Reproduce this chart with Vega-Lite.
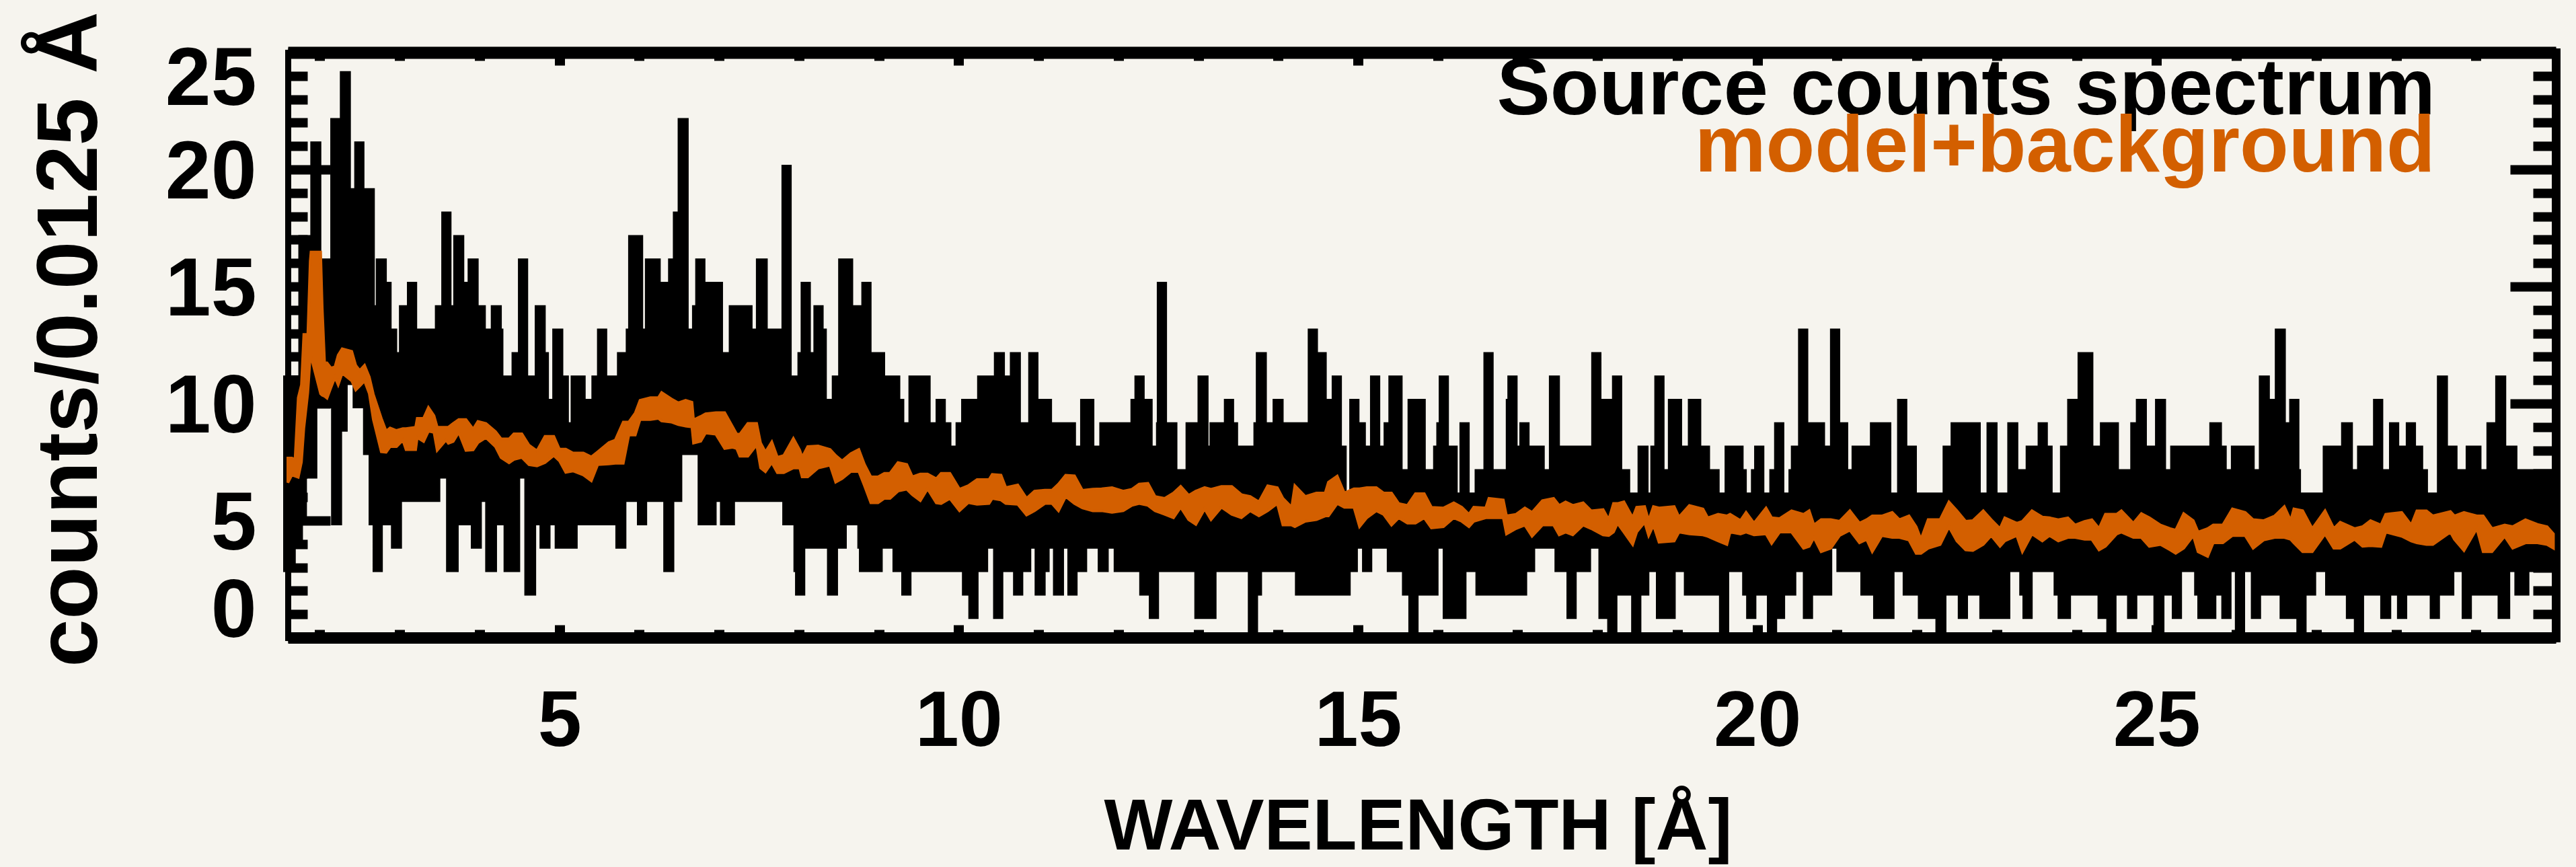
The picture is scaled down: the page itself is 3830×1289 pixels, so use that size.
{"$schema":"https://vega.github.io/schema/vega-lite/v6.json","width":3372,"height":870,"autosize":{"type":"none"},"padding":{"left":428,"top":78,"right":30,"bottom":341},"background":"#f6f4ee","config":{"view":{"stroke":null},"axis":{"grid":false,"tickColor":"#000","domainColor":"#000","labelColor":"#000","titleColor":"#000","labelFont":"Liberation Sans","titleFont":"Liberation Sans","labelFontWeight":"bold","titleFontWeight":"bold"}},
"datasets":{
"upper":[{"w":1.6,"c":11,"m":11},{"w":1.79,"c":17,"m":11},{"w":1.94,"c":21,"m":11},{"w":1.96,"c":16,"m":11},{"w":2.19,"c":22,"m":11},{"w":2.31,"c":24,"m":11},{"w":2.33,"c":19,"m":11},{"w":2.49,"c":21,"m":11},{"w":2.5,"c":19,"m":11},{"w":2.63,"c":14,"m":11},{"w":2.76,"c":16,"m":11},{"w":2.78,"c":15,"m":11},{"w":2.84,"c":13,"m":8.5},{"w":2.91,"c":12,"m":8.5},{"w":3.05,"c":14,"m":8.5},{"w":3.15,"c":15,"m":8.5},{"w":3.16,"c":13,"m":8.5},{"w":3.5,"c":14,"m":8.5},{"w":3.58,"c":18,"m":8.5},{"w":3.59,"c":14,"m":8.5},{"w":3.73,"c":17,"m":8.5},{"w":3.75,"c":15,"m":8.5},{"w":3.91,"c":16,"m":8.5},{"w":3.93,"c":14,"m":8.5},{"w":4.02,"c":13,"m":8.5},{"w":4.2,"c":14,"m":8.5},{"w":4.22,"c":13,"m":8.5},{"w":4.24,"c":11,"m":8.5},{"w":4.46,"c":12,"m":8.5},{"w":4.54,"c":16,"m":8.5},{"w":4.55,"c":11,"m":8.5},{"w":4.75,"c":14,"m":8.5},{"w":4.77,"c":12,"m":8.5},{"w":4.81,"c":10,"m":8.5},{"w":4.97,"c":13,"m":8.5},{"w":4.99,"c":11,"m":8.5},{"w":5.06,"c":9,"m":8.5},{"w":5.2,"c":11,"m":8.5},{"w":5.27,"c":10,"m":8.5},{"w":5.46,"c":11,"m":8.5},{"w":5.53,"c":13,"m":8.5},{"w":5.54,"c":11,"m":8.5},{"w":5.78,"c":12,"m":8.5},{"w":5.89,"c":13,"m":8.5},{"w":5.92,"c":17,"m":8.5},{"w":5.99,"c":13,"m":8.5},{"w":6.13,"c":16,"m":8.5},{"w":6.21,"c":15,"m":8.5},{"w":6.42,"c":16,"m":8.5},{"w":6.48,"c":18,"m":8.5},{"w":6.54,"c":22,"m":8.5},{"w":6.56,"c":13,"m":8.5},{"w":6.72,"c":14,"m":8.5},{"w":6.76,"c":16,"m":8.5},{"w":6.77,"c":15,"m":8.5},{"w":6.99,"c":12,"m":8.5},{"w":7.18,"c":14,"m":8.5},{"w":7.36,"c":13,"m":8.5},{"w":7.52,"c":16,"m":8.5},{"w":7.55,"c":13,"m":8.5},{"w":7.84,"c":20,"m":8.5},{"w":7.85,"c":11,"m":8.5},{"w":8.04,"c":12,"m":8.5},{"w":8.08,"c":15,"m":8.5},{"w":8.09,"c":12,"m":8.5},{"w":8.24,"c":14,"m":8.5},{"w":8.25,"c":13,"m":8.5},{"w":8.29,"c":10,"m":8.5},{"w":8.47,"c":11,"m":8.5},{"w":8.55,"c":16,"m":8.5},{"w":8.62,"c":14,"m":8.5},{"w":8.84,"c":15,"m":8.5},{"w":8.85,"c":12,"m":8.5},{"w":9.02,"c":11,"m":8.5},{"w":9.21,"c":10,"m":8.5},{"w":9.26,"c":9,"m":8.5},{"w":9.43,"c":11,"m":8.5},{"w":9.59,"c":9,"m":5.5},{"w":9.77,"c":10,"m":5.5},{"w":9.78,"c":9,"m":5.5},{"w":9.85,"c":8,"m":5.5},{"w":10.02,"c":9,"m":5.5},{"w":10.09,"c":10,"m":5.5},{"w":10.29,"c":11,"m":5.5},{"w":10.5,"c":12,"m":5.5},{"w":10.52,"c":11,"m":5.5},{"w":10.7,"c":12,"m":5.5},{"w":10.72,"c":9,"m":5.5},{"w":10.93,"c":12,"m":5.5},{"w":10.94,"c":10,"m":5.5},{"w":11.11,"c":9,"m":5.5},{"w":11.41,"c":8,"m":5.5},{"w":11.58,"c":10,"m":5.5},{"w":11.64,"c":8,"m":5.5},{"w":11.82,"c":9,"m":5.5},{"w":12.21,"c":10,"m":5.5},{"w":12.26,"c":11,"m":5.5},{"w":12.27,"c":10,"m":5.5},{"w":12.37,"c":8,"m":5.5},{"w":12.53,"c":9,"m":5.5},{"w":12.54,"c":15,"m":5.5},{"w":12.55,"c":9,"m":5.5},{"w":12.68,"c":7,"m":5.5},{"w":12.9,"c":9,"m":5.5},{"w":13.05,"c":11,"m":5.5},{"w":13.07,"c":8,"m":5.5},{"w":13.2,"c":9,"m":5.5},{"w":13.38,"c":10,"m":5.5},{"w":13.39,"c":9,"m":5.5},{"w":13.44,"c":8,"m":5.5},{"w":13.75,"c":9,"m":5.5},{"w":13.78,"c":12,"m":5.5},{"w":13.8,"c":9,"m":5.5},{"w":13.99,"c":10,"m":5.5},{"w":14.01,"c":9,"m":5.5},{"w":14.43,"c":13,"m":5.5},{"w":14.44,"c":12,"m":5.5},{"w":14.55,"c":10,"m":5.5},{"w":14.73,"c":11,"m":5.5},{"w":14.74,"c":8,"m":5.5},{"w":14.8,"c":6,"m":5.5},{"w":14.95,"c":10,"m":5.5},{"w":14.96,"c":9,"m":5.5},{"w":15.04,"c":8,"m":5.5},{"w":15.21,"c":11,"m":5.5},{"w":15.22,"c":8,"m":5.5},{"w":15.38,"c":9,"m":5.5},{"w":15.44,"c":11,"m":5.5},{"w":15.5,"c":7,"m":5.5},{"w":15.68,"c":10,"m":5.5},{"w":15.79,"c":7,"m":5.5},{"w":16,"c":8,"m":5.5},{"w":16.04,"c":9,"m":5.5},{"w":16.07,"c":11,"m":5.5},{"w":16.08,"c":8,"m":5.5},{"w":16.19,"c":6,"m":5.5},{"w":16.33,"c":9,"m":5.5},{"w":16.34,"c":6,"m":5.5},{"w":16.52,"c":7,"m":5.5},{"w":16.63,"c":12,"m":5.5},{"w":16.64,"c":7,"m":5.5},{"w":16.91,"c":10,"m":5.5},{"w":16.93,"c":11,"m":5.5},{"w":16.94,"c":8,"m":5.5},{"w":17.08,"c":9,"m":5.5},{"w":17.09,"c":8,"m":5.5},{"w":17.28,"c":7,"m":5.5},{"w":17.45,"c":11,"m":5.5},{"w":17.47,"c":8,"m":5.5},{"w":17.98,"c":12,"m":5.5},{"w":17.99,"c":10,"m":5.5},{"w":18.24,"c":11,"m":5.5},{"w":18.25,"c":7,"m":5.5},{"w":18.35,"c":6,"m":5.5},{"w":18.56,"c":8,"m":5.5},{"w":18.58,"c":6,"m":5.5},{"w":18.72,"c":8,"m":5.5},{"w":18.77,"c":11,"m":5.5},{"w":18.78,"c":7,"m":5.5},{"w":18.94,"c":10,"m":5.5},{"w":19,"c":8,"m":5.5},{"w":19.19,"c":10,"m":5.5},{"w":19.24,"c":8,"m":5.5},{"w":19.35,"c":7,"m":5.5},{"w":19.47,"c":6,"m":5.5},{"w":19.65,"c":8,"m":5.5},{"w":19.77,"c":7,"m":5.5},{"w":19.81,"c":6,"m":5.5},{"w":19.98,"c":7,"m":5.5},{"w":20.02,"c":8,"m":5.5},{"w":20.03,"c":6,"m":5.5},{"w":20.21,"c":7,"m":5.5},{"w":20.27,"c":9,"m":5.5},{"w":20.28,"c":6,"m":5.5},{"w":20.45,"c":7,"m":5.5},{"w":20.48,"c":8,"m":5.5},{"w":20.57,"c":13,"m":5.5},{"w":20.58,"c":9,"m":5.5},{"w":20.79,"c":8,"m":5.5},{"w":20.97,"c":13,"m":5.5},{"w":20.98,"c":9,"m":5.5},{"w":21.08,"c":7,"m":5.5},{"w":21.24,"c":8,"m":5.5},{"w":21.47,"c":9,"m":5.5},{"w":21.62,"c":6,"m":5.5},{"w":21.81,"c":10,"m":5.5},{"w":21.82,"c":8,"m":5.5},{"w":21.94,"c":6,"m":5.5},{"w":22.38,"c":8,"m":5.5},{"w":22.48,"c":9,"m":5.5},{"w":22.74,"c":6,"m":5.5},{"w":22.93,"c":9,"m":5.5},{"w":22.95,"c":6,"m":5.5},{"w":23.19,"c":9,"m":5.5},{"w":23.21,"c":7,"m":5.5},{"w":23.42,"c":8,"m":5.5},{"w":23.57,"c":9,"m":5.5},{"w":23.58,"c":8,"m":5.5},{"w":23.64,"c":6,"m":5.5},{"w":23.85,"c":8,"m":5.5},{"w":23.94,"c":10,"m":5.5},{"w":24.07,"c":12,"m":5.5},{"w":24.15,"c":8,"m":5.5},{"w":24.35,"c":9,"m":5.5},{"w":24.47,"c":7,"m":5.5},{"w":24.73,"c":9,"m":5.5},{"w":24.8,"c":10,"m":5.5},{"w":24.82,"c":8,"m":5.5},{"w":25.04,"c":10,"m":5.5},{"w":25.06,"c":7,"m":5.5},{"w":25.23,"c":8,"m":5.5},{"w":25.72,"c":9,"m":5.5},{"w":25.76,"c":8,"m":5.5},{"w":25.82,"c":7,"m":5.5},{"w":25.99,"c":8,"m":5.5},{"w":26.17,"c":7,"m":5.5},{"w":26.34,"c":11,"m":5.5},{"w":26.36,"c":10,"m":5.5},{"w":26.54,"c":13,"m":5.5},{"w":26.56,"c":9,"m":5.5},{"w":26.72,"c":10,"m":5.5},{"w":26.73,"c":7,"m":5.5},{"w":26.75,"c":6,"m":5.5},{"w":27.14,"c":8,"m":5.5},{"w":27.37,"c":9,"m":5.5},{"w":27.4,"c":7,"m":5.5},{"w":27.57,"c":8,"m":5.5},{"w":27.77,"c":10,"m":5.5},{"w":27.78,"c":7,"m":5.5},{"w":27.97,"c":9,"m":5.5},{"w":27.98,"c":8,"m":5.5},{"w":28.18,"c":9,"m":5.5},{"w":28.19,"c":8,"m":5.5},{"w":28.28,"c":7,"m":5.5},{"w":28.34,"c":6,"m":5.5},{"w":28.57,"c":11,"m":5.5},{"w":28.59,"c":8,"m":5.5},{"w":28.71,"c":7,"m":5.5},{"w":28.93,"c":8,"m":5.5},{"w":29.01,"c":7,"m":5.5},{"w":29.19,"c":9,"m":5.5},{"w":29.3,"c":11,"m":5.5},{"w":29.32,"c":8,"m":5.5},{"w":29.46,"c":7,"m":5.5},{"w":29.92,"c":7,"m":5.5}],
"lower":[{"w":1.6,"c":3,"m":11},{"w":1.64,"c":4,"m":11},{"w":1.73,"c":5,"m":11},{"w":1.78,"c":7,"m":11},{"w":1.91,"c":10,"m":11},{"w":2.2,"c":5,"m":11},{"w":2.22,"c":9,"m":11},{"w":2.29,"c":11,"m":11},{"w":2.47,"c":10,"m":11},{"w":2.6,"c":8,"m":11},{"w":2.67,"c":5,"m":11},{"w":2.72,"c":3,"m":11},{"w":2.73,"c":5,"m":11},{"w":2.84,"c":5,"m":8.5},{"w":2.95,"c":4,"m":8.5},{"w":2.97,"c":6,"m":8.5},{"w":3.45,"c":7,"m":8.5},{"w":3.64,"c":3,"m":8.5},{"w":3.68,"c":5,"m":8.5},{"w":3.95,"c":4,"m":8.5},{"w":3.97,"c":6,"m":8.5},{"w":4.13,"c":3,"m":8.5},{"w":4.16,"c":5,"m":8.5},{"w":4.36,"c":3,"m":8.5},{"w":4.45,"c":7,"m":8.5},{"w":4.62,"c":2,"m":8.5},{"w":4.65,"c":5,"m":8.5},{"w":4.81,"c":4,"m":8.5},{"w":4.83,"c":5,"m":8.5},{"w":5,"c":4,"m":8.5},{"w":5.17,"c":5,"m":8.5},{"w":5.76,"c":4,"m":8.5},{"w":5.78,"c":6,"m":8.5},{"w":6.03,"c":5,"m":8.5},{"w":6.04,"c":6,"m":8.5},{"w":6.36,"c":3,"m":8.5},{"w":6.38,"c":6,"m":8.5},{"w":6.48,"c":8,"m":8.5},{"w":6.79,"c":5,"m":8.5},{"w":6.91,"c":6,"m":8.5},{"w":7.07,"c":5,"m":8.5},{"w":7.14,"c":6,"m":8.5},{"w":7.85,"c":5,"m":8.5},{"w":7.99,"c":3,"m":8.5},{"w":8.01,"c":2,"m":8.5},{"w":8.02,"c":4,"m":8.5},{"w":8.41,"c":2,"m":8.5},{"w":8.43,"c":4,"m":8.5},{"w":8.54,"c":5,"m":8.5},{"w":8.79,"c":4,"m":8.5},{"w":8.81,"c":3,"m":8.5},{"w":8.99,"c":4,"m":8.5},{"w":9.23,"c":3,"m":8.5},{"w":9.34,"c":2,"m":8.5},{"w":9.35,"c":3,"m":8.5},{"w":9.5,"c":3,"m":5.5},{"w":10.1,"c":2,"m":5.5},{"w":10.18,"c":1,"m":5.5},{"w":10.19,"c":3,"m":5.5},{"w":10.31,"c":4,"m":5.5},{"w":10.49,"c":1,"m":5.5},{"w":10.5,"c":3,"m":5.5},{"w":10.74,"c":2,"m":5.5},{"w":10.75,"c":3,"m":5.5},{"w":10.85,"c":4,"m":5.5},{"w":11.01,"c":2,"m":5.5},{"w":11.03,"c":3,"m":5.5},{"w":11.08,"c":4,"m":5.5},{"w":11.24,"c":2,"m":5.5},{"w":11.26,"c":4,"m":5.5},{"w":11.42,"c":2,"m":5.5},{"w":11.43,"c":3,"m":5.5},{"w":11.55,"c":4,"m":5.5},{"w":11.8,"c":3,"m":5.5},{"w":11.82,"c":4,"m":5.5},{"w":12,"c":3,"m":5.5},{"w":12.32,"c":2,"m":5.5},{"w":12.44,"c":1,"m":5.5},{"w":12.45,"c":3,"m":5.5},{"w":13.01,"c":1,"m":5.5},{"w":13.17,"c":3,"m":5.5},{"w":13.68,"c":0,"m":5.5},{"w":13.69,"c":2,"m":5.5},{"w":13.74,"c":3,"m":5.5},{"w":14.27,"c":2,"m":5.5},{"w":14.85,"c":3,"m":5.5},{"w":14.94,"c":4,"m":5.5},{"w":15.11,"c":3,"m":5.5},{"w":15.12,"c":4,"m":5.5},{"w":15.42,"c":3,"m":5.5},{"w":15.61,"c":2,"m":5.5},{"w":15.69,"c":0,"m":5.5},{"w":15.7,"c":2,"m":5.5},{"w":15.95,"c":4,"m":5.5},{"w":16.12,"c":1,"m":5.5},{"w":16.3,"c":3,"m":5.5},{"w":16.53,"c":2,"m":5.5},{"w":17.06,"c":3,"m":5.5},{"w":17.16,"c":4,"m":5.5},{"w":17.52,"c":3,"m":5.5},{"w":17.67,"c":1,"m":5.5},{"w":17.68,"c":3,"m":5.5},{"w":17.86,"c":4,"m":5.5},{"w":18.07,"c":1,"m":5.5},{"w":18.18,"c":0,"m":5.5},{"w":18.19,"c":2,"m":5.5},{"w":18.48,"c":0,"m":5.5},{"w":18.49,"c":2,"m":5.5},{"w":18.59,"c":3,"m":5.5},{"w":18.79,"c":1,"m":5.5},{"w":18.92,"c":3,"m":5.5},{"w":19.14,"c":2,"m":5.5},{"w":19.58,"c":0,"m":5.5},{"w":19.59,"c":3,"m":5.5},{"w":19.87,"c":2,"m":5.5},{"w":19.92,"c":1,"m":5.5},{"w":19.93,"c":2,"m":5.5},{"w":20.18,"c":0,"m":5.5},{"w":20.19,"c":1,"m":5.5},{"w":20.29,"c":2,"m":5.5},{"w":20.43,"c":3,"m":5.5},{"w":20.63,"c":1,"m":5.5},{"w":20.64,"c":2,"m":5.5},{"w":20.88,"c":4,"m":5.5},{"w":21.05,"c":3,"m":5.5},{"w":21.35,"c":2,"m":5.5},{"w":21.51,"c":1,"m":5.5},{"w":21.66,"c":3,"m":5.5},{"w":21.88,"c":2,"m":5.5},{"w":22.07,"c":1,"m":5.5},{"w":22.29,"c":0,"m":5.5},{"w":22.31,"c":2,"m":5.5},{"w":22.57,"c":1,"m":5.5},{"w":22.58,"c":2,"m":5.5},{"w":22.84,"c":1,"m":5.5},{"w":23.11,"c":3,"m":5.5},{"w":23.34,"c":2,"m":5.5},{"w":23.38,"c":1,"m":5.5},{"w":23.39,"c":3,"m":5.5},{"w":23.77,"c":2,"m":5.5},{"w":23.82,"c":1,"m":5.5},{"w":23.87,"c":2,"m":5.5},{"w":24.2,"c":3,"m":5.5},{"w":24.26,"c":2,"m":5.5},{"w":24.32,"c":1,"m":5.5},{"w":24.43,"c":0,"m":5.5},{"w":24.44,"c":2,"m":5.5},{"w":24.69,"c":1,"m":5.5},{"w":24.7,"c":2,"m":5.5},{"w":25.02,"c":0,"m":5.5},{"w":25.04,"c":2,"m":5.5},{"w":25.25,"c":1,"m":5.5},{"w":25.26,"c":3,"m":5.5},{"w":25.53,"c":2,"m":5.5},{"w":25.57,"c":1,"m":5.5},{"w":25.69,"c":2,"m":5.5},{"w":25.87,"c":1,"m":5.5},{"w":25.88,"c":3,"m":5.5},{"w":26.04,"c":0,"m":5.5},{"w":26.05,"c":3,"m":5.5},{"w":26.24,"c":1,"m":5.5},{"w":26.25,"c":2,"m":5.5},{"w":26.6,"c":1,"m":5.5},{"w":26.81,"c":0,"m":5.5},{"w":26.82,"c":2,"m":5.5},{"w":26.94,"c":3,"m":5.5},{"w":27.17,"c":2,"m":5.5},{"w":27.43,"c":1,"m":5.5},{"w":27.53,"c":0,"m":5.5},{"w":27.54,"c":2,"m":5.5},{"w":27.86,"c":1,"m":5.5},{"w":27.88,"c":2,"m":5.5},{"w":28.07,"c":1,"m":5.5},{"w":28.08,"c":2,"m":5.5},{"w":28.48,"c":1,"m":5.5},{"w":28.49,"c":2,"m":5.5},{"w":28.67,"c":3,"m":5.5},{"w":28.88,"c":1,"m":5.5},{"w":28.89,"c":2,"m":5.5},{"w":29.33,"c":1,"m":5.5},{"w":29.37,"c":3,"m":5.5},{"w":29.54,"c":2,"m":5.5},{"w":29.61,"c":3,"m":5.5},{"w":29.92,"c":3,"m":5.5}],
"model":[{"w":1.6,"h":7.67,"l":6.62},{"w":1.65,"h":7.67,"l":6.95},{"w":1.69,"h":7.61,"l":6.9},{"w":1.73,"h":10.25,"l":6.85},{"w":1.77,"h":10.8,"l":7.5},{"w":1.8,"h":12.95,"l":8.94},{"w":1.85,"h":12.95,"l":10.47},{"w":1.88,"h":16.08,"l":12.01},{"w":1.89,"h":16.47,"l":12.01},{"w":2.01,"h":16.47,"l":10.42},{"w":2.03,"h":14.1,"l":10.36},{"w":2.06,"h":11.74,"l":10.31},{"w":2.09,"h":11.74,"l":10.23},{"w":2.14,"h":11.52,"l":10.69},{"w":2.19,"h":11.57,"l":11.13},{"w":2.23,"h":12.07,"l":10.8},{"w":2.28,"h":12.34,"l":11.3},{"w":2.4,"h":12.23,"l":10.97},{"w":2.45,"h":11.63,"l":10.58},{"w":2.5,"h":11.41,"l":10.75},{"w":2.56,"h":11.63,"l":10.97},{"w":2.62,"h":11.13,"l":10.42},{"w":2.67,"h":10.4,"l":9.32},{"w":2.77,"h":9.37,"l":7.94},{"w":2.83,"h":8.82,"l":7.92},{"w":2.88,"h":8.96,"l":8.16},{"w":2.96,"h":8.85,"l":8.16},{"w":3.04,"h":8.93,"l":8.44},{"w":3.08,"h":8.93,"l":8.03},{"w":3.2,"h":8.99,"l":8.03},{"w":3.22,"h":9.37,"l":8.55},{"w":3.3,"h":9.37,"l":8.38},{"w":3.36,"h":9.83,"l":8.82},{"w":3.43,"h":9.48,"l":8.77},{"w":3.47,"h":8.99,"l":8},{"w":3.58,"h":8.99,"l":8.44},{"w":3.61,"h":8.99,"l":8.3},{"w":3.67,"h":9.15,"l":8.38},{"w":3.74,"h":9.32,"l":8.77},{"w":3.83,"h":9.32,"l":8},{"w":3.92,"h":8.91,"l":8.02},{"w":3.98,"h":9.24,"l":8.33},{"w":4.08,"h":9.15,"l":8.55},{"w":4.2,"h":8.8,"l":8.16},{"w":4.27,"h":8.49,"l":7.69},{"w":4.37,"h":8.49,"l":7.47},{"w":4.43,"h":8.71,"l":7.61},{"w":4.53,"h":8.71,"l":7.7},{"w":4.62,"h":8.22,"l":7.39},{"w":4.72,"h":7.98,"l":7.34},{"w":4.82,"h":8.6,"l":7.48},{"w":4.93,"h":8.6,"l":7.78},{"w":5,"h":8.05,"l":7.56},{"w":5.08,"h":8.05,"l":7.06},{"w":5.17,"h":7.89,"l":7.12},{"w":5.3,"h":7.89,"l":6.95},{"w":5.4,"h":7.72,"l":6.7},{"w":5.48,"h":7.94,"l":7.39},{"w":5.62,"h":8.33,"l":7.42},{"w":5.7,"h":8.44,"l":7.45},{"w":5.8,"h":9.21,"l":7.45},{"w":5.87,"h":9.21,"l":8.66},{"w":5.95,"h":9.59,"l":8.66},{"w":6.01,"h":10.14,"l":9.32},{"w":6.14,"h":10.25,"l":9.32},{"w":6.24,"h":10.25,"l":9.37},{"w":6.28,"h":10.47,"l":9.26},{"w":6.4,"h":10.2,"l":9.21},{"w":6.49,"h":10.03,"l":9.1},{"w":6.58,"h":10.14,"l":9.04},{"w":6.66,"h":10.06,"l":9},{"w":6.68,"h":9.3,"l":8.31},{"w":6.77,"h":9.45,"l":8.39},{"w":6.83,"h":9.56,"l":8.74},{"w":6.96,"h":9.61,"l":8.69},{"w":7.07,"h":9.61,"l":8.08},{"w":7.17,"h":9,"l":8.13},{"w":7.22,"h":8.69,"l":8.08},{"w":7.26,"h":8.69,"l":7.75},{"w":7.36,"h":9.15,"l":7.75},{"w":7.47,"h":9.15,"l":8.24},{"w":7.52,"h":8.31,"l":7.25},{"w":7.58,"h":7.93,"l":7.09},{"w":7.66,"h":8.36,"l":7.48},{"w":7.73,"h":7.7,"l":7.05},{"w":7.81,"h":7.78,"l":7.05},{"w":7.93,"h":8.51,"l":7.25},{"w":8.01,"h":8.01,"l":7.25},{"w":8.04,"h":7.7,"l":6.87},{"w":8.11,"h":8.16,"l":6.87},{"w":8.24,"h":8.19,"l":7.25},{"w":8.39,"h":8.04,"l":7.37},{"w":8.46,"h":7.78,"l":6.64},{"w":8.54,"h":7.55,"l":6.79},{"w":8.65,"h":7.86,"l":7.1},{"w":8.75,"h":8.04,"l":7.1},{"w":8.82,"h":7.4,"l":6.49},{"w":8.9,"h":6.87,"l":5.76},{"w":8.99,"h":6.87,"l":5.76},{"w":9.07,"h":7.02,"l":5.95},{"w":9.14,"h":7.02,"l":5.95},{"w":9.24,"h":7.48,"l":6.26},{"w":9.35,"h":7.4,"l":6.34},{"w":9.42,"h":6.87,"l":6.11},{"w":9.52,"h":6.99,"l":5.85},{"w":9.61,"h":6.99,"l":6.36},{"w":9.72,"h":6.79,"l":5.76},{"w":9.78,"h":7.02,"l":5.73},{"w":9.89,"h":7.02,"l":5.95},{"w":10.01,"h":6.34,"l":5.42},{"w":10.12,"h":6.49,"l":5.77},{"w":10.23,"h":6.75,"l":5.7},{"w":10.38,"h":6.75,"l":5.73},{"w":10.42,"h":6.97,"l":5.95},{"w":10.53,"h":6.94,"l":5.88},{"w":10.59,"h":6.41,"l":5.73},{"w":10.74,"h":6.52,"l":5.7},{"w":10.85,"h":5.95,"l":5.24},{"w":10.95,"h":6.26,"l":5.42},{"w":11.08,"h":6.3,"l":5.73},{"w":11.17,"h":6.3,"l":5.73},{"w":11.25,"h":6.56,"l":5.42},{"w":11.34,"h":6.94,"l":6.03},{"w":11.45,"h":6.91,"l":5.73},{"w":11.55,"h":6.29,"l":5.54},{"w":11.68,"h":6.34,"l":5.42},{"w":11.79,"h":6.36,"l":5.42},{"w":11.92,"h":6.41,"l":5.35},{"w":12.06,"h":6.26,"l":5.42},{"w":12.17,"h":6.34,"l":5.65},{"w":12.26,"h":6.56,"l":5.73},{"w":12.37,"h":6.59,"l":5.65},{"w":12.46,"h":6.03,"l":5.42},{"w":12.58,"h":5.95,"l":5.27},{"w":12.69,"h":6.18,"l":5.12},{"w":12.78,"h":6.46,"l":5.57},{"w":12.88,"h":6.08,"l":5.04},{"w":12.97,"h":6.26,"l":4.84},{"w":13.08,"h":6.41,"l":5.5},{"w":13.16,"h":6.34,"l":5.04},{"w":13.29,"h":6.46,"l":5.57},{"w":13.42,"h":6.46,"l":5.27},{"w":13.54,"h":6.11,"l":5.12},{"w":13.65,"h":6.03,"l":5.42},{"w":13.76,"h":5.8,"l":5.2},{"w":13.87,"h":6.49,"l":5.42},{"w":13.99,"h":6.41,"l":5.73},{"w":14.06,"h":5.95,"l":4.81},{"w":14.17,"h":5.57,"l":4.81},{"w":14.21,"h":6.49,"l":4.74},{"w":14.34,"h":6.03,"l":4.97},{"w":14.48,"h":6.18,"l":5.04},{"w":14.59,"h":6.18,"l":5.2},{"w":14.63,"h":6.64,"l":5.2},{"w":14.74,"h":6.9,"l":5.73},{"w":14.83,"h":6.18,"l":5.57},{"w":14.95,"h":6.36,"l":5.57},{"w":15.02,"h":6.36,"l":4.74},{"w":15.11,"h":6.41,"l":5.12},{"w":15.23,"h":6.41,"l":5.42},{"w":15.32,"h":6.18,"l":5.27},{"w":15.42,"h":6.18,"l":4.81},{"w":15.51,"h":5.73,"l":5.12},{"w":15.62,"h":5.65,"l":4.89},{"w":15.72,"h":6.15,"l":4.89},{"w":15.83,"h":6.15,"l":5.12},{"w":15.92,"h":5.57,"l":4.69},{"w":16.07,"h":5.54,"l":4.74},{"w":16.2,"h":5.76,"l":5.12},{"w":16.3,"h":5.57,"l":4.97},{"w":16.39,"h":5.27,"l":4.74},{"w":16.45,"h":5.57,"l":4.97},{"w":16.6,"h":5.54,"l":5.12},{"w":16.64,"h":5.95,"l":5.12},{"w":16.82,"h":5.88,"l":5.12},{"w":16.86,"h":5.2,"l":4.43},{"w":16.98,"h":5.27,"l":4.66},{"w":17.09,"h":5.54,"l":4.81},{"w":17.18,"h":5.35,"l":4.33},{"w":17.31,"h":5.85,"l":4.81},{"w":17.45,"h":5.95,"l":4.81},{"w":17.52,"h":5.65,"l":4.39},{"w":17.6,"h":5.8,"l":4.51},{"w":17.69,"h":5.65,"l":4.39},{"w":17.82,"h":5.76,"l":4.81},{"w":17.92,"h":5.42,"l":4.66},{"w":18.07,"h":5.47,"l":4.39},{"w":18.14,"h":5.04,"l":4.36},{"w":18.2,"h":5.73,"l":4.51},{"w":18.25,"h":5.73,"l":4.89},{"w":18.33,"h":5.8,"l":4.51},{"w":18.44,"h":5.12,"l":3.98},{"w":18.49,"h":5.57,"l":4.51},{"w":18.59,"h":5.6,"l":4.93},{"w":18.64,"h":5,"l":4.36},{"w":18.7,"h":5.6,"l":4.81},{"w":18.77,"h":5.54,"l":4.08},{"w":18.96,"h":5.6,"l":4.13},{"w":19.02,"h":5.15,"l":4.51},{"w":19.15,"h":5.65,"l":4.43},{"w":19.32,"h":5.5,"l":4.39},{"w":19.38,"h":5.12,"l":4.33},{"w":19.51,"h":5.27,"l":4.13},{"w":19.62,"h":5.2,"l":3.98},{"w":19.66,"h":5.27,"l":4.51},{"w":19.79,"h":5,"l":4.43},{"w":19.86,"h":5.35,"l":4.51},{"w":19.96,"h":4.89,"l":4.39},{"w":20.11,"h":5.54,"l":4.43},{"w":20.18,"h":5.12,"l":4.02},{"w":20.28,"h":5.09,"l":4.51},{"w":20.43,"h":5.42,"l":4.51},{"w":20.58,"h":5.27,"l":3.82},{"w":20.65,"h":5.42,"l":3.9},{"w":20.71,"h":4.81,"l":4.28},{"w":20.8,"h":5.04,"l":3.67},{"w":20.92,"h":5.04,"l":3.82},{"w":21.03,"h":4.97,"l":4.36},{"w":21.16,"h":5.42,"l":4.59},{"w":21.28,"h":4.89,"l":4.05},{"w":21.37,"h":5.04,"l":4.2},{"w":21.44,"h":5.2,"l":3.67},{"w":21.56,"h":5.2,"l":4.36},{"w":21.69,"h":5.35,"l":4.28},{"w":21.78,"h":5.04,"l":4.28},{"w":21.9,"h":5.2,"l":4.17},{"w":21.99,"h":4.74,"l":3.6},{"w":22.05,"h":4.2,"l":3.6},{"w":22.14,"h":5.04,"l":3.82},{"w":22.29,"h":5.04,"l":3.98},{"w":22.4,"h":5.8,"l":4.74},{"w":22.5,"h":5.42,"l":4.13},{"w":22.61,"h":4.97,"l":3.75},{"w":22.7,"h":5,"l":3.72},{"w":22.83,"h":5.42,"l":3.98},{"w":22.93,"h":5.04,"l":4.36},{"w":23.04,"h":4.66,"l":3.9},{"w":23.1,"h":5.12,"l":4.13},{"w":23.25,"h":4.89,"l":4.36},{"w":23.32,"h":4.97,"l":3.67},{"w":23.44,"h":5.42,"l":4.43},{"w":23.57,"h":5.15,"l":4.13},{"w":23.66,"h":5.12,"l":4.36},{"w":23.77,"h":5.04,"l":4.13},{"w":23.89,"h":5.12,"l":4.28},{"w":23.98,"h":4.81,"l":4.28},{"w":24.1,"h":4.97,"l":4.2},{"w":24.19,"h":5.04,"l":4.2},{"w":24.28,"h":4.66,"l":3.75},{"w":24.36,"h":5.27,"l":3.9},{"w":24.5,"h":5.27,"l":4.43},{"w":24.56,"h":5.42,"l":4.51},{"w":24.71,"h":4.89,"l":4.28},{"w":24.81,"h":5.3,"l":4.28},{"w":24.91,"h":5.12,"l":3.9},{"w":25.05,"h":4.81,"l":3.98},{"w":25.17,"h":4.66,"l":3.75},{"w":25.24,"h":4.59,"l":3.6},{"w":25.34,"h":5.3,"l":3.82},{"w":25.46,"h":5,"l":4.36},{"w":25.52,"h":4.51,"l":3.67},{"w":25.64,"h":4.66,"l":3.47},{"w":25.71,"h":4.81,"l":4.05},{"w":25.83,"h":4.81,"l":4.05},{"w":25.95,"h":5.5,"l":4.36},{"w":26.11,"h":5.35,"l":4.36},{"w":26.21,"h":5.04,"l":3.82},{"w":26.34,"h":5,"l":4.17},{"w":26.48,"h":5.2,"l":4.28},{"w":26.6,"h":5.6,"l":4.28},{"w":26.68,"h":5,"l":4.2},{"w":26.72,"h":5.5,"l":4.05},{"w":26.83,"h":5.42,"l":3.67},{"w":26.95,"h":4.66,"l":3.67},{"w":27.11,"h":5.42,"l":4.43},{"w":27.22,"h":4.66,"l":3.82},{"w":27.3,"h":4.93,"l":3.82},{"w":27.48,"h":4.66,"l":4.2},{"w":27.58,"h":4.74,"l":3.9},{"w":27.68,"h":5,"l":3.93},{"w":27.81,"h":4.81,"l":3.9},{"w":27.87,"h":5.27,"l":4.51},{"w":28.07,"h":5.35,"l":4.33},{"w":28.19,"h":4.81,"l":4.13},{"w":28.26,"h":5.42,"l":4.05},{"w":28.38,"h":5.42,"l":3.98},{"w":28.46,"h":5.2,"l":3.98},{"w":28.68,"h":5.39,"l":4.51},{"w":28.73,"h":5.2,"l":4.2},{"w":28.85,"h":5.35,"l":3.72},{"w":29.01,"h":5.2,"l":4.66},{"w":29.09,"h":5.2,"l":3.67},{"w":29.2,"h":4.66,"l":3.67},{"w":29.36,"h":4.81,"l":4.33},{"w":29.46,"h":4.74,"l":3.82},{"w":29.62,"h":5.04,"l":4.05},{"w":29.77,"h":4.84,"l":4.05},{"w":29.89,"h":4.74,"l":3.98},{"w":29.97,"h":4.43,"l":3.82}],
"notes":[{"w":28.49,"c":22.37,"t":"Source  counts  spectrum","k":"src"},{"w":28.49,"c":19.9,"t":"model+background","k":"mod"}]},
"resolve":{"axis":{"x":"independent","y":"independent"}},
"layer":[
{"data":{"name":"upper"},"mark":{"type":"area","interpolate":"step-after","color":"#000","stroke":"#000","strokeWidth":14,"strokeJoin":"miter"},
"encoding":{"x":{"field":"w","type":"quantitative","scale":{"domain":[1.6,30],"nice":false,"zero":false},"axis":{"orient":"bottom","values":[5,10,15,20,25],"tickSize":-19,"tickWidth":15,"domainWidth":17,"labelFontSize":117,"labelPadding":87,"labelFlush":false,"labelOverlap":false,"labelBaseline":"top","title":"WAVELENGTH [Å]","titleFontSize":108,"titleX":1680,"titleY":314,"titleBaseline":"alphabetic","titleAlign":"center"}},
"y":{"field":"c","type":"quantitative","scale":{"domain":[0,25],"nice":false,"zero":false},"axis":{"orient":"left","values":[0,5,10,15,20,25],"tickSize":-63,"tickWidth":14,"domainWidth":9,"domainCap":"square","labelFontSize":122,"labelPadding":110,"labelFlush":false,"labelOverlap":false,"labelBaseline":"middle","labelOffset":{"condition":[{"test":"datum.value==25","value":40},{"test":"datum.value==0","value":-39}],"value":5},"title":"counts/0.0125  Å","titleFontSize":128,"titleAngle":-90,"titleX":-285,"titleY":426,"titleAlign":"center","titleBaseline":"alphabetic"}},
"y2":{"field":"m"}}},
{"data":{"name":"lower"},"mark":{"type":"area","interpolate":"step-after","color":"#000","stroke":"#000","strokeWidth":14,"strokeJoin":"miter"},
"encoding":{"x":{"field":"w","type":"quantitative","axis":{"orient":"top","values":[5,10,15,20,25],"tickSize":-19,"tickWidth":15,"domainWidth":18,"labels":false,"title":null}},
"y":{"field":"c","type":"quantitative","axis":{"orient":"right","values":[0,5,10,15,20,25],"tickSize":-68,"tickWidth":14,"domainWidth":13,"domainCap":"square","labels":false,"title":null}},
"y2":{"field":"m"}}},
{"data":{"name":"model"},"mark":{"type":"area","color":"#d35f00","stroke":"#d35f00","strokeWidth":4,"strokeJoin":"miter","interpolate":"linear"},
"encoding":{"x":{"field":"w","type":"quantitative","axis":{"orient":"bottom","values":[2,3,4,6,7,8,9,11,12,13,14,16,17,18,19,21,22,23,24,26,27,28,29],"tickSize":-12,"tickWidth":15,"domain":false,"labels":false,"title":null}},
"y":{"field":"h","type":"quantitative","axis":{"orient":"left","values":[1,2,3,4,6,7,8,9,11,12,13,14,16,17,18,19,21,22,23,24],"tickSize":-29,"tickWidth":14,"domain":false,"labels":false,"title":null}},
"y2":{"field":"l"}}},
{"data":{"name":"notes"},"mark":{"type":"text","align":"right","baseline":"alphabetic","font":"Liberation Sans","fontWeight":"bold","fontSize":119},
"encoding":{"x":{"field":"w","type":"quantitative","axis":{"orient":"top","values":[2,3,4,6,7,8,9,11,12,13,14,16,17,18,19,21,22,23,24,26,27,28,29],"tickSize":-12,"tickWidth":15,"domain":false,"labels":false,"title":null}},
"y":{"field":"c","type":"quantitative","axis":{"orient":"right","values":[1,2,3,4,6,7,8,9,11,12,13,14,16,17,18,19,21,22,23,24],"tickSize":-34,"tickWidth":14,"domain":false,"labels":false,"title":null}},
"text":{"field":"t"},
"color":{"field":"k","type":"nominal","scale":{"domain":["src","mod"],"range":["#000000","#d35f00"]},"legend":null}}}
]}
